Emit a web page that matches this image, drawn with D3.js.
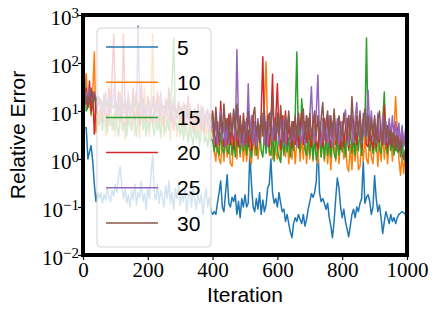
<!DOCTYPE html>
<html><head><meta charset="utf-8">
<script src="https://cdn.jsdelivr.net/npm/d3@7"></script>
<style>body{margin:0;background:#fff}svg{display:block}</style>
</head><body>
<svg id="c" width="436" height="317"></svg>
<script>
// ---------- data ----------
const iterStep = 5;               // one value every 5 iterations, 0..1000
const seriesNames = ["5", "10", "15", "20", "25", "30"];
const seriesColors = ["#1f77b4", "#ff7f0e", "#2ca02c", "#d62728", "#9467bd", "#8c564b"];
const xTickValues = [0, 200, 400, 600, 800, 1000];
const yTickExponents = [-2, -1, 0, 1, 2, 3];
const xLabel = "Iteration";
const yLabel = "Relative Error";

const err5 = [
 4.0,4.5,4.5,1.0,1.4,1.9,0.9,0.3,0.13,0.2,
 0.15,0.2,0.12,0.18,0.14,0.25,0.16,0.13,0.22,0.17,
 0.3,0.2,0.45,0.7,0.25,0.15,0.25,0.12,0.18,0.1,
 0.22,0.14,0.3,0.11,0.2,0.16,0.35,0.13,0.19,0.09,
 0.25,0.15,0.5,1.2,0.2,0.14,0.3,0.12,0.22,0.16,
 0.1,0.28,0.15,0.35,0.12,0.2,0.09,0.24,0.15,0.3,
 0.11,0.18,0.13,0.25,0.08,0.16,0.22,0.1,0.3,0.14,
 0.09,0.2,0.12,0.18,0.07,0.15,0.24,0.1,0.16,0.08,
 0.07,0.08,0.07,0.12,0.2,0.35,0.1,0.08,0.2,0.47,
 0.12,0.1,0.16,0.13,0.18,0.07,0.13,0.06,0.15,0.1,
 0.18,0.1,0.12,1.4,0.3,0.1,0.08,0.15,0.09,0.2,
 0.07,0.14,0.08,0.11,0.25,0.3,1.0,0.2,0.12,0.15,
 0.1,0.2,0.12,0.08,0.09,0.05,0.07,0.045,0.03,0.023,
 0.045,0.06,0.05,0.07,0.055,0.045,0.07,0.04,0.055,0.09,
 0.13,0.19,0.16,0.2,0.35,2.2,0.2,0.13,0.15,0.12,
 0.09,0.12,0.06,0.04,0.023,0.05,0.15,0.4,0.25,0.1,
 0.06,0.09,0.05,0.035,0.024,0.04,0.07,0.09,0.06,0.1,
 0.08,0.12,0.15,0.9,0.12,0.16,0.18,0.13,0.07,0.1,
 0.45,0.15,0.08,0.11,0.06,0.028,0.05,0.08,0.06,0.045,
 0.07,0.05,0.06,0.045,0.06,0.07,0.075,0.08,0.075,0.07,
 0.04];
const err10 = [
 15,30,60,12,20,8,25,170,3.6,8,
 6,10,4,15,3,8,5,20,4,9,
 3,12,6,25,4,7,2.5,10,5,14,
 4,9,3,18,6,2.8,11,5,30,4,
 8,3,15,400,6,10,4,20,5,7,
 3,12,5,8,2.5,16,4,9,3,6,
 10,4,7,3,13,5,2.8,8,4,11,
 3.5,6,2.5,9,4,7,3,5,2.2,4,
 4,1.5,0.9,2.8,1.0,0.8,2.5,0.9,3,1.1,
 2.5,0.8,0.7,2.2,3.5,1.0,4.5,1.1,3,0.9,
 2.5,0.9,3,1.1,0.8,3.5,1.2,4,1.0,2.2,
 3,4,15,105,3.5,1.2,3.5,1.0,6,1.4,
 1.0,4,0.9,3,8,1.1,3.5,0.8,2.5,1.0,
 3,0.8,2.4,4,0.9,3,1.0,3.5,0.8,2.5,
 1.0,3,0.9,5,1.2,0.8,3.5,1.1,4,0.9,
 3,0.8,2.2,0.6,2.5,3.5,0.9,3,0.8,2.4,
 3.5,1.0,2.8,0.7,0.55,2,0.6,2.5,0.9,3,
 0.6,0.7,2.5,0.9,3,1.0,0.8,3.5,1.1,0.8,
 2.2,3,0.7,2.5,0.9,3.5,1.0,2.8,0.8,2.4,
 3,0.9,4,20,3.5,1.0,0.46,1.2,0.5,1.5,
 0.9];
const err15 = [
 130,40,10,12,18,9,14,25,11,8,
 5,8,4,12,6,3.5,9,5,7,4,
 10,5,3,7,15,4,6,3,8,5,
 4,12,6,3,9,5,20,4,7,3,
 6,4,11,5,3,8,4,6,2.8,9,
 5,3.5,7,4,12,40,330,8,4,6,
 3,5,2.5,7,4,2.2,6,3,2,5,
 2.5,4,2,3.5,6,2.2,3,1.8,4,2.5,
 2.5,1.4,3,1.5,1.2,3.5,1.6,1.3,4,1.5,
 1.3,3.5,1.2,2.8,1.1,3,4.5,1.3,3.5,1.5,
 3,1.2,4,1.8,1.1,3,4,1.2,2.8,5,
 1.5,1.1,3.5,1.3,4.5,1.5,1.2,3.5,0.9,4,
 1.5,1.1,0.85,3,1.2,3.5,1.4,2.8,1.1,3.8,
 1.5,8,170,2.5,1.4,18,6,1.6,1.2,3.5,
 1.2,3.5,1.0,2.8,0.95,1.5,3.8,1.1,2.8,1.0,
 3,1.2,2.6,1.1,3.5,1.3,1.0,3,1.2,3.8,
 1.4,3.5,1.1,4,1.5,5,1.3,3,1.2,3.5,
 1.5,4,1.2,3.5,5,330,2.5,1.5,3,1.3,
 3,1.4,3.5,1.6,1.3,6,25,1.8,1.3,4,
 1.5,3.5,1.2,3,1.4,2.8,1.1,2.5,1.0,0.9,
 1.3];
const err20 = [
 20,15,30,12,42,10,25,3.3,15,9,
 8,15,6,20,10,5,30,12,60,400,
 15,8,25,6,12,400,10,5,18,7,
 12,30,6,9,15,5,40,8,11,6,
 20,7,10,5,14,8,25,6,9,12,
 5,18,8,30,6,10,4,12,7,15,
 6,9,4.5,12,7,20,5,8,3.5,10,
 5,14,6,4,9,3.5,7,11,4,6,
 10,3,1.8,6,2,16,3,1.8,7,2,
 8.6,2,5,1.6,6,2.5,1.8,8,2.2,5,
 2,7,1.8,5,1.5,8,2.5,1.7,6,2.2,
 9,135,4,2,8,1.8,5,58,2.5,7,
 37,3,1.6,8,2.2,10,2,5,2.6,1.7,
 6,2,5,1.7,4,9,2,6,2.2,7,
 2.6,1.8,5,8,2,1.6,6,2.4,1.8,7,
 2.2,7.5,3,1.7,5,7,2,6,2.2,1.6,
 6,1.8,4.5,7,1.7,3,8,2,6,2,
 4.5,7,1.7,6.2,5,2,1.8,6,2.4,1.6,
 5,1.8,6,2.2,4,2,13,2.5,1.7,6,
 2.2,1.8,5,1.6,4.5,2,1.7,4,2,2.5,
 18];
const err25 = [
 22,18,25,16,28,20,15,24,18,12,
 20,10,15,8,25,12,18,9,14,30,
 10,16,7,22,12,9,18,11,25,8,
 14,9,20,12,590,15,8,18,11,7,
 15,10,8,20,12,6,14,9,25,11,
 8,16,10,7,13,9,20,6,11,8,
 12,7,15,9,6,10,14,8,5,11,
 7,9,5,13,8,6,10,5,8,4,
 6,2.2,8,2,5,10,2.5,6,1.8,5,
 2.2,8,3,10,2.5,190,6,2,5,1.8,
 6,2.5,37,3,8,2,6,1.8,7,2.6,
 4,9,2,6,1.8,5,10,2.4,7,2.5,
 6,2,9,2.5,7,1.8,5,8,2.2,6,
 2.4,7,1.8,9,3,2.2,6,2,8,3,
 8,32,4,2.2,9,56,3,2,7,2.5,
 6,2,8,3,1.8,9,2.5,7,2,6,
 2.4,7,10.5,3,2,8,6,2.2,7,15,
 3,8,2.2,9,3,6,27,4,10,2.5,
 7,2.2,9,3,2.4,8,2,6,2.2,7,
 3,8,2.2,6,2.5,5.6,2,5,1.8,4,
 3];
const err30 = [
 18,25,14,20,16,30,12,22,16,20,
 14,18,10,22,12,16,9,20,13,11,
 17,10,14,8,20,12,15,9,18,13,
 10,16,12,25,9,14,11,18,8,13,
 12,16,9,14,20,10,12,8,15,11,
 13,9,17,11,8,14,10,12,7,16,
 9,12,8,14,10,7,12,9,6,11,
 8,10,6,9,12,7,8,5,9,6,
 9,3,12,4,2.5,8,3.5,14,4,7,
 2.5,9,3,11,4,14,3,7,2.2,9,
 4,2.2,10,3.5,2.5,8,12,3,6,2.4,
 8,3,10,2.5,6,9,3,20,4,2.5,
 9,3,13,4,2.2,8,3.5,10,2.6,6,
 3,8,2.4,9,3.5,6,11,2.6,8,3,
 9,2.5,6,10,3,8,2.4,7,15,3,
 6,10,2.6,8,3,11,3.5,2.2,8,4,
 3,9,5,2.4,8,3,20,5,2.5,8,
 3.5,10,2.5,6,11,3,8,2.4,7,3,
 8,2.5,6,10,3,2.2,7,2.6,5,2,
 4,1.8,3.5,1.5,3,1.4,2.5,1.2,1.0,1.6,
 1.3];
const seriesValues = [err5, err10, err15, err20, err25, err30];

// ---------- chart ----------
const plot = {left: 83, right: 407, top: 15, bottom: 255};
const svg = d3.select("#c");
const x = d3.scaleLinear().domain([0, 1000]).range([plot.left, plot.right]);
const y = d3.scaleLog().domain([1e-2, 1e3]).range([plot.bottom, plot.top]);

svg.append("defs").append("clipPath").attr("id", "clip")
  .append("rect").attr("x", plot.left).attr("y", plot.top)
  .attr("width", plot.right - plot.left).attr("height", plot.bottom - plot.top);

const line = d3.line().x((d, i) => x(i * iterStep)).y(d => y(d));
const gLines = svg.append("g").attr("clip-path", "url(#clip)");
seriesValues.forEach((vals, k) => {
  gLines.append("path").datum(vals)
    .attr("d", line).attr("fill", "none")
    .attr("stroke", seriesColors[k]).attr("stroke-width", 1.5)
    .attr("stroke-linejoin", "round");
});

// legend
const lg = svg.append("g");
lg.append("rect").attr("x", 97).attr("y", 28).attr("width", 114).attr("height", 219)
  .attr("rx", 4).attr("fill", "#fff").attr("fill-opacity", 0.8)
  .attr("stroke", "#d3d3d3").attr("stroke-width", 1);
seriesNames.forEach((name, k) => {
  const cy = 47 + k * 35.2;
  lg.append("line").attr("x1", 106).attr("x2", 158).attr("y1", cy).attr("y2", cy)
    .attr("stroke", seriesColors[k]).attr("stroke-width", 1.5);
  lg.append("text").attr("x", 177).attr("y", cy + 7.5).text(name)
    .attr("font-family", "Liberation Sans, Arial, sans-serif").attr("font-size", 21)
    .attr("fill", "#000");
});

// frame
svg.append("rect").attr("x", plot.left).attr("y", plot.top)
  .attr("width", plot.right - plot.left).attr("height", plot.bottom - plot.top)
  .attr("fill", "none").attr("stroke", "#000").attr("stroke-width", 4);

// x axis
const gx = svg.append("g").attr("transform", `translate(0,${plot.bottom})`)
  .call(d3.axisBottom(x).tickValues(xTickValues).tickSize(5).tickSizeOuter(0).tickFormat(d => d));
gx.select(".domain").remove();
gx.selectAll(".tick line").attr("stroke", "#000").attr("stroke-width", 1.2);
gx.selectAll(".tick text").attr("font-family", "Liberation Serif, Times New Roman, serif")
  .attr("font-size", 21).attr("fill", "#000").attr("y", 7).attr("dy", "0.71em");

// y axis
const gy = svg.append("g").attr("transform", `translate(${plot.left},0)`)
  .call(d3.axisLeft(y).tickValues(yTickExponents.map(e => Math.pow(10, e))).tickSize(5).tickSizeOuter(0).tickFormat(""));
gy.select(".domain").remove();
gy.selectAll(".tick line").attr("stroke", "#000").attr("stroke-width", 1.2);
gy.selectAll(".tick text").remove();
yTickExponents.forEach(e => {
  const t = svg.append("text").attr("x", 79).attr("y", y(Math.pow(10, e)) + 10)
    .attr("text-anchor", "end").attr("font-family", "Liberation Serif, Times New Roman, serif")
    .attr("fill", "#000");
  t.append("tspan").attr("font-size", 21).text("10");
  t.append("tspan").attr("font-size", 15).attr("dy", -7.5).text(e < 0 ? "\u2212" + (-e) : String(e));
});

// axis titles
svg.append("text").attr("x", (plot.left + plot.right) / 2).attr("y", 302)
  .attr("text-anchor", "middle").attr("font-family", "Liberation Sans, Arial, sans-serif")
  .attr("font-size", 21).attr("fill", "#000").text(xLabel);
svg.append("text").attr("transform", `translate(25,${(plot.top + plot.bottom) / 2}) rotate(-90)`)
  .attr("text-anchor", "middle").attr("font-family", "Liberation Sans, Arial, sans-serif")
  .attr("font-size", 21).attr("fill", "#000").text(yLabel);
</script>
</body></html>
